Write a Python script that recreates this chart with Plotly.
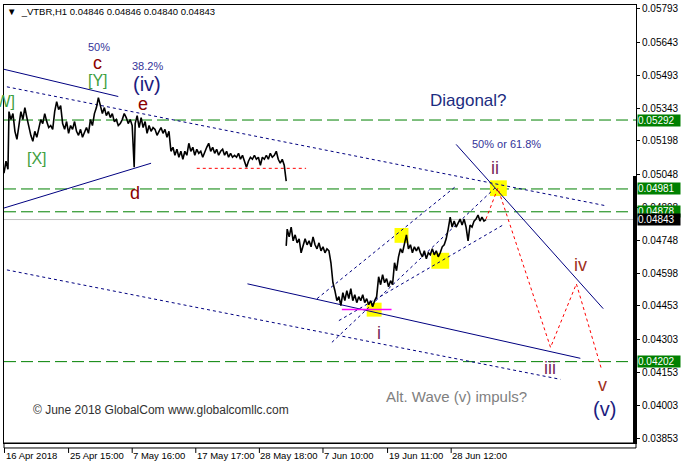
import plotly.graph_objects as go

PIP = 1e-5

# ---------------- price series (bar index, close in 1e-5 units) ----------------
bars1 = [3, 5, 7, 8, 10, 12, 14, 16, 18, 20,
         22, 24, 26, 28, 30, 32, 34, 36, 38, 40,
         42, 44, 46, 48, 50, 52, 54, 56, 58, 60,
         62, 64, 66, 68, 70, 72, 74, 76, 78, 80,
         82, 84, 86, 88, 90, 92, 94, 96, 98, 100,
         102, 104, 106, 108, 110, 112, 114, 116, 118, 120,
         122, 124, 126, 128, 130, 132, 134, 135, 137, 139,
         141, 143, 145, 147, 149, 151, 153, 155, 157, 159,
         161, 163, 165, 167, 169, 171, 173, 175, 177, 179,
         181, 183, 185, 187, 189, 191, 193, 195, 197, 199,
         201, 203, 205, 207, 209, 211, 213, 215, 217, 219,
         221, 223, 225, 227, 229, 231, 233, 235, 237, 239,
         241, 243, 245, 247, 249, 251, 253, 255, 257, 259,
         261, 263, 265, 267, 269, 271, 273, 275, 277, 279,
         281, 283, 285, 286, 287]
close1 = [5052, 5106, 5070, 5330, 5294, 5321, 5241, 5205, 5267, 5330,
          5294, 5348, 5303, 5258, 5223, 5196, 5241, 5214, 5250, 5294,
          5276, 5321, 5285, 5258, 5267, 5250, 5330, 5375, 5339, 5357,
          5276, 5250, 5285, 5232, 5267, 5250, 5285, 5241, 5223, 5250,
          5214, 5241, 5258, 5232, 5294, 5267, 5321, 5348, 5393, 5357,
          5321, 5348, 5312, 5330, 5303, 5321, 5285, 5294, 5267, 5276,
          5294, 5321, 5303, 5276, 5294, 5267, 5079, 5276, 5312, 5258,
          5303, 5258, 5285, 5232, 5267, 5241, 5258, 5250, 5223, 5241,
          5258, 5232, 5250, 5214, 5241, 5151, 5169, 5133, 5160, 5124,
          5151, 5115, 5151, 5133, 5187, 5151, 5169, 5133, 5160, 5142,
          5151, 5124, 5151, 5169, 5187, 5151, 5169, 5142, 5160, 5133,
          5151, 5160, 5133, 5151, 5124, 5142, 5124, 5133, 5124, 5142,
          5115, 5133, 5106, 5079, 5106, 5124, 5115, 5133, 5115, 5124,
          5088, 5124, 5115, 5133, 5115, 5142, 5124, 5133, 5151, 5115,
          5097, 5115, 5088, 5061, 5016]

bars2 = [287, 288, 290, 292, 294, 296, 298, 300, 302, 304,
         306, 308, 310, 312, 314, 316, 318, 320, 322, 324,
         326, 328, 330, 332, 334, 336, 338, 340, 342, 344,
         346, 348, 350, 352, 354, 356, 358, 360, 362, 364,
         366, 368, 370, 372, 374, 376, 378, 380, 382, 384,
         386, 388, 390, 392, 394, 396, 398, 400, 402, 404,
         406, 408, 410, 412, 414, 416, 418, 420, 422, 424,
         426, 428, 430, 432, 434, 436, 438, 440, 442, 444,
         446, 448, 450, 452, 454, 456, 458, 460, 462, 464,
         466, 468, 470, 472, 474, 476, 478, 480, 482, 484,
         486, 488]
close2 = [4724, 4800, 4765, 4809, 4747, 4774, 4738, 4756, 4693, 4720,
          4756, 4729, 4747, 4720, 4765, 4729, 4711, 4738, 4702, 4720,
          4693, 4711, 4702, 4648, 4558, 4522, 4477, 4495, 4455, 4513,
          4477, 4522, 4486, 4531, 4477, 4504, 4468, 4495, 4477, 4504,
          4468, 4486, 4459, 4477, 4450, 4477, 4495, 4585, 4549, 4594,
          4558, 4576, 4540, 4567, 4549, 4648, 4612, 4675, 4711, 4693,
          4729, 4774, 4711, 4729, 4693, 4720, 4702, 4720, 4693, 4675,
          4702, 4666, 4693, 4684, 4711, 4684, 4702, 4675, 4693, 4720,
          4729, 4756, 4800, 4854, 4809, 4836, 4809, 4827, 4845, 4818,
          4845, 4809, 4747, 4818, 4809, 4836, 4845, 4863, 4836, 4854,
          4836, 4843]

# ---------------- axis content ----------------
ytick_vals = [0.05793, 0.05643, 0.05493, 0.05343, 0.05198, 0.05048, 0.04898,
              0.04748, 0.04598, 0.04453, 0.04303, 0.04153, 0.04003, 0.03853]
xtick_bars = [3.5, 68, 132, 196, 260, 324, 389, 453]
xtick_text = ["16 Apr 2018", "25 Apr 15:00", "7 May 16:00", "17 May 17:00",
              "28 May 18:00", "7 Jun 10:00", "19 Jun 11:00", "28 Jun 12:00"]
green_levels = [0.05292, 0.04981, 0.04878, 0.04202]
bid_level = 0.04843
title_text = "▼  _VTBR,H1 0.04846 0.04846 0.04840 0.04843"

# ---------------- analysis drawings (bar, price) ----------------
solid_lines = [(0, 0.05524, 118, 0.05398), (3, 0.04895, 151, 0.05097),
               (248, 0.04553, 583, 0.04217), (458, 0.05182, 606, 0.04441)]
dotted_lines = [(0, 0.05447, 610, 0.04904), (0, 0.04621, 563, 0.04122),
                (318, 0.04486, 458, 0.04994), (333, 0.04289, 497, 0.04985),
                (340, 0.04387, 505, 0.04818)]
red_path_bars = [488, 500, 553, 579, 604]
red_path_prices = [0.04845, 0.04985, 0.04266, 0.04553, 0.04172]
red_level = (197, 307, 0.05074)
magenta_level = (343, 393, 0.04437)
yellow_boxes = [(368, 383, 0.04405, 0.04468), (396, 410, 0.04738, 0.04805),
                (433, 451, 0.04621, 0.04693), (492, 509, 0.04949, 0.05020)]

# (text, bar, price, colour, size, anchor)
wave_labels = [
    ("[W]", 16, 0.05375, "#3f9f3f", 16, "right"),
    ("[X]", 36, 0.05119, "#3f9f3f", 16, "center"),
    ("[Y]", 98, 0.05470, "#3f9f3f", 16, "center"),
    ("c", 97, 0.05550, "#8b0000", 18, "center"),
    ("50%", 99, 0.05622, "#333399", 11, "center"),
    ("38.2%", 147, 0.05537, "#333399", 11, "center"),
    ("(iv)", 147, 0.05456, "#1c1c80", 20, "center"),
    ("e", 143, 0.05366, "#8b0000", 18, "center"),
    ("d", 135, 0.04962, "#8b0000", 18, "center"),
    ("Diagonal?", 470, 0.05380, "#1c2c80", 17, "center"),
    ("50% or 61.8%", 509, 0.05182, "#333399", 11, "center"),
    ("ii", 497, 0.05074, "#7a2a5a", 18, "center"),
    ("i", 380, 0.04333, "#7a2a5a", 18, "center"),
    ("iii", 552, 0.04172, "#7a2a5a", 18, "center"),
    ("iv", 583, 0.04639, "#a0301c", 18, "center"),
    ("v", 605, 0.04095, "#a0301c", 18, "center"),
    ("(v)", 607, 0.03988, "#1c1c80", 20, "center"),
    ("Alt. Wave (v) impuls?", 458, 0.04046, "#808080", 15, "center"),
]
copyright_text = "© June 2018 GlobalCom www.globalcomllc.com"

# ---------------- layout geometry ----------------
W, H = 682, 469
PL, PR, PT, PB = 3, 639, 3, 443
Y_TOP, Y_BOT = 0.058109, 0.038349
FONT = "Liberation Sans, Arial, sans-serif"


def py(px):
    return (PB - px) / (PB - PT)


def pxp(bar):
    return (bar - PL) / (PR - PL)


fig = go.Figure()

shapes = []
for lv in green_levels:
    shapes.append(dict(type="line", xref="paper", yref="y", x0=0, x1=1, y0=lv, y1=lv,
                       line=dict(color="#008000", width=1, dash="12px,5px"), layer="below"))
shapes.append(dict(type="line", xref="paper", yref="y", x0=0, x1=1, y0=bid_level, y1=bid_level,
                   line=dict(color="#c0c0c0", width=1), layer="below"))
for (b0, b1, p0, p1) in yellow_boxes:
    shapes.append(dict(type="rect", xref="x", yref="y", x0=b0, x1=b1, y0=p0, y1=p1,
                       fillcolor="#ffff00", line=dict(width=0), layer="below"))
shapes.append(dict(type="rect", xref="paper", yref="y", x0=1 - 3 / (PR - PL), x1=1,
                   y0=Y_BOT, y1=0.05039, fillcolor="black", line=dict(width=0)))
shapes.append(dict(type="rect", xref="paper", yref="paper", x0=0, x1=1, y0=py(448), y1=py(443),
                   line=dict(color="black", width=1), fillcolor="rgba(0,0,0,0)"))
for b in xtick_bars:
    shapes.append(dict(type="line", xref="paper", yref="paper", x0=pxp(b), x1=pxp(b),
                       y0=py(448), y1=py(453), line=dict(color="black", width=1)))
fig.update_layout(shapes=shapes)

for (b0, p0, b1, p1) in dotted_lines:
    fig.add_trace(go.Scatter(x=[b0, b1], y=[p0, p1], mode="lines",
                             line=dict(color="#000080", width=1, dash="3px,3px"),
                             hoverinfo="skip", showlegend=False))
for (b0, p0, b1, p1) in solid_lines:
    fig.add_trace(go.Scatter(x=[b0, b1], y=[p0, p1], mode="lines",
                             line=dict(color="#000080", width=1),
                             hoverinfo="skip", showlegend=False))
fig.add_trace(go.Scatter(x=[red_level[0], red_level[1]], y=[red_level[2], red_level[2]], mode="lines",
                         line=dict(color="#ff0000", width=1, dash="3px,3px"),
                         hoverinfo="skip", showlegend=False))
fig.add_trace(go.Scatter(x=[magenta_level[0], magenta_level[1]], y=[magenta_level[2], magenta_level[2]],
                         mode="lines", line=dict(color="#ff00ff", width=1.5),
                         hoverinfo="skip", showlegend=False))

fig.add_trace(go.Scatter(x=bars1, y=[v * PIP for v in close1], mode="lines",
                         line=dict(color="black", width=1.6), hoverinfo="skip", showlegend=False))
fig.add_trace(go.Scatter(x=bars2, y=[v * PIP for v in close2], mode="lines",
                         line=dict(color="black", width=1.6), hoverinfo="skip", showlegend=False))

fig.add_trace(go.Scatter(x=red_path_bars, y=red_path_prices, mode="lines",
                         line=dict(color="#ff0000", width=1, dash="3px,3px"),
                         hoverinfo="skip", showlegend=False))

ann = []
for (txt, b, p, col, sz, anc) in wave_labels:
    ann.append(dict(text=txt, x=b, y=p, xref="x", yref="y", showarrow=False, xanchor=anc,
                    font=dict(family=FONT, size=sz, color=col)))
ann.append(dict(text=copyright_text, x=30, y=0.03983, xref="x", yref="y", showarrow=False,
                xanchor="left", font=dict(family=FONT, size=12, color="#303030")))
ann.append(dict(text=title_text, x=pxp(4), y=py(10), xref="paper", yref="paper",
                showarrow=False, xanchor="left", yanchor="middle",
                font=dict(family=FONT, size=9.5, color="black")))
for b, t in zip(xtick_bars, xtick_text):
    ann.append(dict(text=t, x=pxp(b - 1), y=py(456), xref="paper", yref="paper", showarrow=False,
                    xanchor="left", yanchor="middle", font=dict(family=FONT, size=9.5, color="black")))
for lv in green_levels:
    ann.append(dict(text="%.5f" % lv, x=1, y=lv, xref="paper", yref="y", showarrow=False,
                    xanchor="left", xshift=1, width=42, height=11, align="left", borderpad=0,
                    bgcolor="#008000", font=dict(family=FONT, size=10, color="white")))
ann.append(dict(text="%.5f" % bid_level, x=1, y=bid_level, xref="paper", yref="y", showarrow=False,
                xanchor="left", xshift=1, width=42, height=11, align="left", borderpad=0,
                bgcolor="black", font=dict(family=FONT, size=10, color="white")))

fig.update_layout(
    annotations=ann,
    width=W, height=H, autosize=False,
    margin=dict(l=PL, r=W - PR, t=PT, b=H - PB, pad=0),
    paper_bgcolor="white", plot_bgcolor="white",
    xaxis=dict(range=[PL, PR], showgrid=False, zeroline=False, showticklabels=False,
               showline=True, linecolor="black", linewidth=1, mirror=True, ticks=""),
    yaxis=dict(range=[Y_BOT, Y_TOP], side="right", showgrid=False, zeroline=False,
               tickvals=ytick_vals, ticktext=["%.5f" % v for v in ytick_vals],
               ticks="outside", ticklen=3, tickcolor="black",
               tickfont=dict(family=FONT, size=10, color="black"),
               showline=True, linecolor="black", linewidth=1, mirror=True),
    showlegend=False,
)

fig.write_html("out.html", config={"displayModeBar": False},
               post_script="document.body.style.margin='0px';document.body.style.overflow='hidden';")
